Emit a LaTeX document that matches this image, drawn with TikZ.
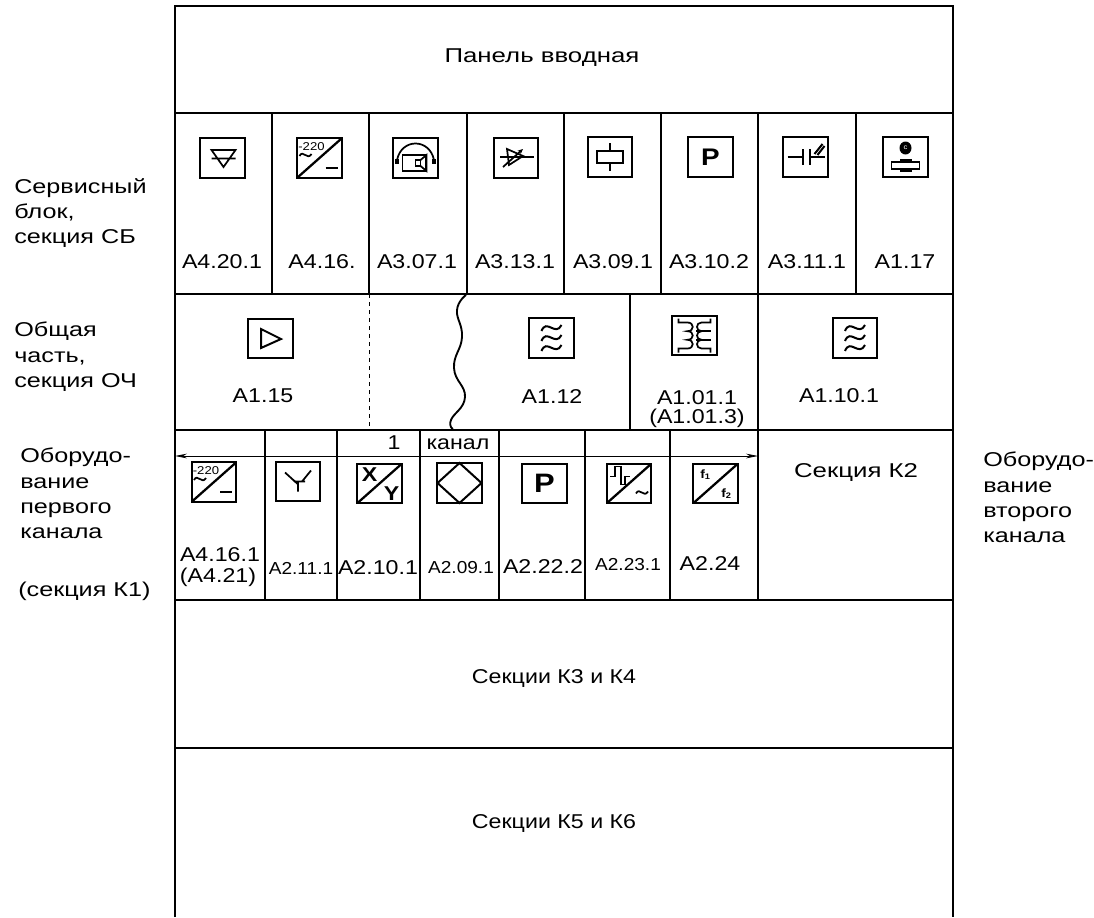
\documentclass[tikz,border=0pt]{standalone}
\usepackage{fontspec}
\setmainfont[FakeStretch=1.16]{Liberation Sans}
\newfontfamily\thinf[FakeStretch=1.1]{Liberation Sans}
\newfontfamily\widef[FakeStretch=1.29]{Liberation Sans}
\newfontfamily\sidef[FakeStretch=1.26]{Liberation Sans}
\usetikzlibrary{arrows.meta}
\tikzset{
 x=0.75pt,y=-0.75pt,
 heavy/.style={line width=1.9pt},
 mid/.style={line width=1.4pt},
 thinl/.style={line width=1pt},
 sym/.style={line width=1.3pt},
 iconbox/.style={draw,line width=1.7pt,minimum width=33.5pt,minimum height=29.5pt,inner sep=0pt,outer sep=0pt},
 lab/.style={inner sep=0pt,font=\fontsize{15}{18}\selectfont},
 wlab/.style={inner sep=0pt,font=\widef\fontsize{15}{18}\selectfont},
 slab/.style={inner sep=0pt,font=\thinf\fontsize{13}{16}\selectfont},
 side/.style={inner sep=0pt,anchor=north west,align=left,font=\sidef\fontsize{15}{18.8}\selectfont},
}
\newcommand{\tld}[3]{\draw[sym] (#1-#3,#2+1) .. controls (#1-#3*0.4,#2-6) and (#1+#3*0.3,#2+6) .. (#1+#3,#2-1);}
\newcommand{\ftld}[1]{\draw[line width=1.5pt] (-10,#1+3) .. controls (-5,#1-10) and (4,#1+9) .. (10,#1-3);}
\newcommand{\filt}{\ftld{-10}\ftld{0}\ftld{10}}
\newcommand{\conv}{\draw[line width=1.7pt] (-22,19.5)--(22,-19.5);}
\begin{document}
\begin{tikzpicture}
\useasboundingbox (0,0) rectangle (1094,917);
% frame
\draw[heavy] (175,917)--(175,6)--(953,6)--(953,917);
\foreach \y in {113,294,430,600,748}{\draw[heavy] (175,\y)--(953,\y);}
% row 1
\foreach \x in {272,369,467,564,661,758,856}{\draw[mid] (\x,113)--(\x,294);}
% row 2
\draw[thinl,dashed,line width=0.6pt] (369,294)--(369,430);
\draw[mid] plot[smooth,tension=0.8] coordinates {(466,295)(457,310)(462,337)(454,368)(465,397)(451,420)(453,429)};
\draw[heavy] (630,294)--(630,430);
\draw[mid] (758,294)--(758,600);
% row 3
\foreach \x in {265,585}{\draw[mid] (\x,430)--(\x,600);}
\foreach \x in {337,420,670}{\draw[heavy] (\x,430)--(\x,600);}
\draw[mid] (499,430)--(499,600);
\coordinate (arrL) at (175,456);
\coordinate (arrR) at (758,456);
\draw[line width=0.6pt,{Stealth[length=9pt,width=3.5pt]}-{Stealth[length=9pt,width=3.5pt]}] (arrL)--(arrR);
% text
\node[wlab] (t0) at (542,58) {Панель вводная};
\node[lab] (a1) at (222,262) {A4.20.1};
\node[lab] (a2) at (322,262) {A4.16.};
\node[lab] (a3) at (417,262) {A3.07.1};
\node[lab] (a4) at (515,262) {A3.13.1};
\node[lab] (a5) at (613,262) {A3.09.1};
\node[lab] (a6) at (709,262) {A3.10.2};
\node[lab] (a7) at (807,262) {A3.11.1};
\node[lab] (a8) at (905,262) {A1.17};
\node[lab] (b1) at (263,396) {A1.15};
\node[lab] (b2) at (552,397) {A1.12};
\node[lab] (b3) at (697,398) {A1.01.1};
\node[lab] (b3b) at (697,418) {(A1.01.3)};
\node[lab] (b4) at (839,396) {A1.10.1};
\node[lab] (c0) at (394,443) {1};
\node[lab] (c00) at (458,444) {канал};
\node[lab] (c1) at (220,555) {A4.16.1};
\node[lab] (c1b) at (218,577) {(A4.21)};
\node[slab] (c2) at (301,568) {A2.11.1};
\node[lab] (c3) at (378,568) {A2.10.1};
\node[slab] (c4) at (461,568) {A2.09.1};
\node[lab] (c5) at (543,567) {A2.22.2};
\node[slab] (c6) at (628,565) {A2.23.1};
\node[lab] (c7) at (710,564) {A2.24};
\node[wlab] (k2) at (856,473) {Секция К2};
\node[lab] (k3) at (554,678) {Секции К3 и К4};
\node[lab] (k5) at (554,823) {Секции К5 и К6};
\node[side] (s1) at (14,178) {Сервисный\\блок,\\секция СБ};
\node[side] (s2) at (14,322) {Общая\\часть,\\секция ОЧ};
\node[side] (s3) at (20,448) {Оборудо-\\вание\\первого\\канала};
\node[side] (s4) at (18,582) {(секция К1)};
\node[side] (s5) at (983,452) {Оборудо-\\вание\\второго\\канала};
% icons row 1
\node[iconbox] (i1) at (222.5,158) {};
\begin{scope}[shift={(i1.center)}]
 \draw[sym] (-11,-8)--(13,-8)--(1,9)--cycle (-11,0.5)--(13,0.5);
\end{scope}
\node[iconbox] (i2) at (319.5,158) {};
\begin{scope}[shift={(i2.center)}]
 \conv
 \node[inner sep=0pt,font=\fontsize{8.5}{9}\selectfont] (i2t) at (-8,-11) {-220};
 \tld{-14}{-3}{6}
 \draw[line width=1.7pt] (6,10)--(18,10);
\end{scope}
\node[iconbox] (i3) at (415.5,158) {};
\begin{scope}[shift={(i3.center)}]
 \draw[sym] (-18.5,2) .. controls (-14,-20) and (14,-20) .. (18.5,2);
 \draw[sym] (-13,-3) rectangle (10,13);
 \draw[sym] (0,2) rectangle (5,8);
 \draw[sym] (5,2)--(11,-3)--(11,13)--(5,8);
 \fill (-20.5,1) rectangle (-16.5,6);
 \fill (16.5,1) rectangle (20.5,6);
\end{scope}
\node[iconbox] (i4) at (516,158) {};
\begin{scope}[shift={(i4.center)}]
 \draw[sym] (-16,-1)--(18,-1);
 \draw[sym] (-9,-9)--(7,-2)--(-7,7)--cycle;
 \draw[sym,-{Stealth[length=4pt,width=3.5pt]}] (-13,9)--(7,-9);
\end{scope}
\node[iconbox] (i5) at (610,157) {};
\begin{scope}[shift={(i5.center)}]
 \draw[line width=1.5pt] (-13,-6) rectangle (13,6);
 \draw[sym] (0,-14)--(0,-6) (0,6)--(0,14);
\end{scope}
\node[iconbox] (i6) at (710.5,157) {};
\node[inner sep=0pt,font=\bfseries\fontsize{18}{20}\selectfont] (i6t) at (i6.center) {P};
\node[iconbox] (i7) at (805.5,157) {};
\begin{scope}[shift={(i7.center)}]
 \draw[sym] (-18,0)--(-3,0) (4,0)--(19,0);
 \draw[line width=1.5pt] (-3,-8)--(-3,8) (4,-8)--(4,8);
 \draw[line width=1.5pt] (9,-3)--(17,-13) (12,-2)--(19,-11);
\end{scope}
\node[iconbox] (i8) at (905.5,157) {};
\begin{scope}[shift={(i8.center)}]
 \fill (0,-9) ellipse (6 and 6.5);
 \node[white,inner sep=0pt,font=\fontsize{5}{6}\selectfont] (i8t) at (0,-9) {c};
 \fill (-6,2) rectangle (6,15);
 \draw[line width=1.4pt,fill=white] (-14,5) rectangle (14,12);
\end{scope}
% icons row 2
\node[iconbox] (j1) at (270.5,338.5) {};
\begin{scope}[shift={(j1.center)}]
 \draw[line width=1.5pt] (-9.5,-9.5)--(10.5,0.5)--(-9.5,9.5)--cycle;
\end{scope}
\node[iconbox] (j2) at (551.5,338) {};
\begin{scope}[shift={(j2.center)}]\filt\end{scope}
\node[iconbox] (j3) at (694.5,335.5) {};
\begin{scope}[shift={(j3.center)}]
 \draw[sym] (-16,-17)--(-16,-13)--(-7,-13)
  .. controls (0,-13) and (0,-4.3) .. (-7,-4.3)
  .. controls (0,-4.3) and (0,4.3) .. (-7,4.3)
  .. controls (0,4.3) and (0,13) .. (-7,13)--(-16,13)--(-16,17);
 \draw[sym] (16,-17)--(16,-13)--(7,-13)
  .. controls (1,-13) and (1,-4.3) .. (7,-4.3)
  .. controls (1,-4.3) and (1,4.3) .. (7,4.3)
  .. controls (1,4.3) and (1,13) .. (7,13)--(16,13)--(16,17);
 \draw[sym] (1.5,-4.3)--(16,-4.3) (1.5,4.3)--(16,4.3);
\end{scope}
\node[iconbox] (j4) at (855,338) {};
\begin{scope}[shift={(j4.center)}]\filt\end{scope}
% icons row 3
\node[iconbox] (m1) at (214,482) {};
\begin{scope}[shift={(m1.center)}]
 \conv
 \node[inner sep=0pt,font=\fontsize{8.5}{9}\selectfont] (m1t) at (-8,-11) {-220};
 \tld{-14}{-3}{6}
 \draw[line width=1.7pt] (6,10)--(18,10);
\end{scope}
\node[iconbox] (m2) at (298,481.5) {};
\begin{scope}[shift={(m2.center)}]
 \draw[sym] (0,10)--(0,0) (-13,-9)--(-3,0) (13,-11)--(4,0) (-4,0)--(7,0);
 \fill (-7,-3)--(-1,0)--(-1,3)--cycle;
\end{scope}
\node[iconbox] (m3) at (379.5,483.5) {};
\begin{scope}[shift={(m3.center)}]
 \conv
 \node[inner sep=0pt,font=\bfseries\fontsize{15}{16}\selectfont] (m3x) at (-10,-9) {X};
 \node[inner sep=0pt,font=\bfseries\fontsize{15}{16}\selectfont] (m3y) at (12,10) {Y};
\end{scope}
\node[iconbox] (m4) at (459.5,483) {};
\begin{scope}[shift={(m4.center)}]
 \draw[line width=1.5pt] (-22,0)--(0,-20)--(22,0)--(0,20)--cycle;
\end{scope}
\node[iconbox] (m5) at (544.5,483.5) {};
\node[inner sep=0pt,font=\bfseries\fontsize{20}{22}\selectfont] (m5t) at (m5.center) {P};
\node[iconbox] (m6) at (629,483.5) {};
\begin{scope}[shift={(m6.center)}]
 \conv
 \draw[sym] (-19,-7)--(-14,-7)--(-14,-17)--(-8,-17)--(-8,1)--(-4,1)--(-4,-7)--(1,-7);
 \tld{13}{9}{6}
\end{scope}
\node[iconbox] (m7) at (715.5,483.5) {};
\begin{scope}[shift={(m7.center)}]
 \conv
 \node[inner sep=0pt,font=\bfseries\fontsize{9}{10}\selectfont] (m7a) at (-10,-9) {f\textsubscript{1}};
 \node[inner sep=0pt,font=\bfseries\fontsize{9}{10}\selectfont] (m7b) at (11,10) {f\textsubscript{2}};
\end{scope}
\end{tikzpicture}
\end{document}
